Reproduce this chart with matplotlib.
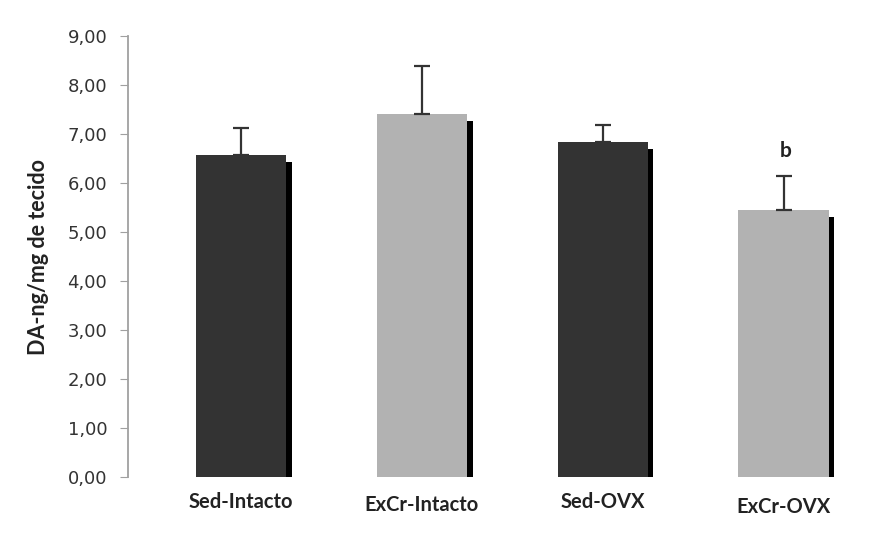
import numpy as np
import matplotlib
matplotlib.use('Agg')
import matplotlib.pyplot as plt
from matplotlib.ticker import FuncFormatter

groups = ['Sed-Intacto', 'ExCr-Intacto', 'Sed-OVX', 'ExCr-OVX']
means = [6.57, 7.41, 6.84, 5.45]
sem_up = [0.55, 0.98, 0.34, 0.70]
colors = ['#333333', '#b2b2b2', '#333333', '#b2b2b2']
marks = ['', '', '', 'b']

fig = plt.figure(figsize=(8.91, 5.39), dpi=100)
ax = fig.add_axes([0.1437, 0.115, 0.8373, 0.818])

x = np.arange(len(groups))
width = 0.5

# shadow behind bars
ax.bar(x + 0.03, np.array(means) - 0.08, width=width, bottom=-0.06,
       color='black', zorder=1)
ax.bar(x, means, width=width, color=colors, zorder=2)
ax.errorbar(x, means, yerr=[np.zeros(len(x)), sem_up], fmt='none',
            ecolor='#333333', elinewidth=1.6, capsize=6, capthick=1.6,
            zorder=3)

for xi, m, e, s in zip(x, means, sem_up, marks):
    if s:
        ax.text(xi + 0.01, m + e + 0.5, s, ha='center', va='center',
                fontsize=15, fontweight='bold', color='#222222',
                family='Lato')

ax.set_xlim(-0.625, 3.5)
ax.set_ylim(0, 9)
ax.set_yticks(np.arange(0, 10, 1))
ax.yaxis.set_major_formatter(FuncFormatter(lambda v, p: ('%.2f' % v).replace('.', ',')))
ax.tick_params(axis='y', direction='out', length=6, color='#a0a0a0',
               labelsize=13, labelcolor='#333333', pad=9)
ax.tick_params(axis='x', length=0, pad=11)
ax.set_xticks(x)
ax.set_xticklabels(groups, fontsize=14.5, fontweight='bold', color='#222222',
                   family='Lato')
for lbl, dy in zip(ax.get_xticklabels(), [0, 3, 0, 5]):
    lbl.set_y(-dy / 441.0)

for side in ['top', 'right', 'bottom']:
    ax.spines[side].set_visible(False)
ax.spines['left'].set_color('#a0a0a0')
ax.spines['left'].set_linewidth(1.3)

ax.set_ylabel('DA-ng/mg de tecido', fontsize=15.5, fontweight='bold',
              color='#222222', family='Lato', labelpad=13)

fig.savefig('out.png', dpi=100)
